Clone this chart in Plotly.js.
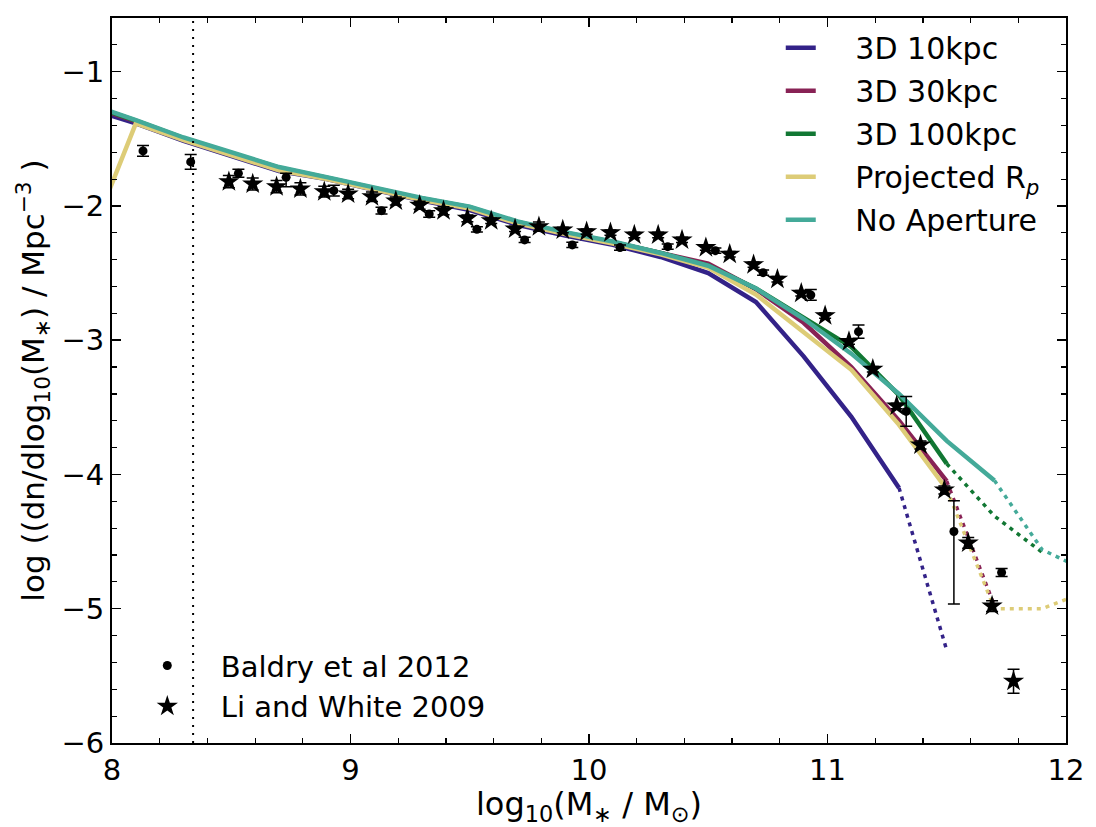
<!DOCTYPE html>
<html>
<head>
<meta charset="utf-8">
<script src="https://cdn.plot.ly/plotly-3.0.1.min.js"></script>
<style>
html,body{margin:0;padding:0;background:#fff;}
#chart{width:1096px;height:827px;}
</style>
</head>
<body>
<div id="chart"></div>
<script>
// ---- model curves (bin centres) ----
const massBins = [7.9, 8.1, 8.3, 8.5, 8.7, 8.9, 9.1, 9.3, 9.5, 9.7, 9.9, 10.1, 10.3, 10.5, 10.7, 10.9, 11.1, 11.3, 11.5, 11.7, 11.9, 12.1];

const ap10 = [-1.275, -1.385, -1.515, -1.625, -1.74, -1.80, -1.88, -1.96, -2.03, -2.14, -2.22, -2.29, -2.38, -2.50, -2.715, -3.12, -3.57, -4.10, -5.31, null, null, null];
const ap30 = [-1.25, -1.37, -1.50, -1.61, -1.72, -1.795, -1.87, -1.95, -2.015, -2.125, -2.205, -2.27, -2.35, -2.43, -2.62, -2.87, -3.20, -3.60, -4.05, -4.98, null, null];
const ap100 = [-1.245, -1.365, -1.495, -1.605, -1.715, -1.79, -1.865, -1.945, -2.01, -2.12, -2.20, -2.27, -2.35, -2.445, -2.615, -2.83, -3.05, -3.41, -3.92, -4.31, -4.58, null];
const apProj = [-2.28, -1.385, -1.51, -1.62, -1.735, -1.80, -1.875, -1.955, -2.02, -2.13, -2.21, -2.28, -2.36, -2.46, -2.66, -2.935, -3.22, -3.63, -4.11, -5.00, -5.00, -4.86];
const apNone = [-1.24, -1.36, -1.49, -1.60, -1.71, -1.785, -1.86, -1.94, -2.005, -2.115, -2.195, -2.265, -2.35, -2.445, -2.615, -2.84, -3.10, -3.40, -3.75, -4.045, -4.56, -4.73];

// index of last bin drawn solid for each curve (after it: dotted)
const solidEnd = {ap10: 17, ap30: 18, ap100: 18, apProj: 18, apNone: 19};

// ---- observations ----
const baldryX = [8.13, 8.33, 8.53, 8.73, 8.93, 9.13, 9.33, 9.53, 9.73, 9.93, 10.13, 10.33, 10.53, 10.73, 10.93, 11.13, 11.33, 11.53, 11.73];
const baldryY = [-1.59, -1.672, -1.757, -1.787, -1.886, -2.035, -2.06, -2.174, -2.253, -2.29, -2.31, -2.303, -2.333, -2.497, -2.663, -2.936, -3.53, -4.425, -4.73];
const baldryErrUp = [0.04, 0.055, 0.03, 0.03, 0.04, 0.025, 0.025, 0.02, 0.02, 0.02, 0.02, 0.02, 0.02, 0.02, 0.04, 0.05, 0.11, 0.23, 0.03];
const baldryErrDn = [0.04, 0.055, 0.03, 0.07, 0.04, 0.025, 0.025, 0.02, 0.02, 0.02, 0.02, 0.02, 0.02, 0.02, 0.04, 0.05, 0.11, 0.54, 0.03];

const liX = [8.49, 8.59, 8.69, 8.79, 8.89, 8.99, 9.09, 9.19, 9.29, 9.39, 9.49, 9.59, 9.69, 9.79, 9.89, 9.99, 10.09, 10.19, 10.29, 10.39, 10.49, 10.59, 10.69, 10.79, 10.89, 10.99, 11.09, 11.19, 11.29, 11.39, 11.49, 11.59, 11.69, 11.78];
const liY = [-1.819, -1.836, -1.856, -1.873, -1.893, -1.911, -1.931, -1.963, -1.995, -2.036, -2.092, -2.11, -2.171, -2.154, -2.179, -2.191, -2.199, -2.216, -2.216, -2.253, -2.31, -2.36, -2.437, -2.546, -2.65, -2.817, -3.01, -3.216, -3.49, -3.78, -4.115, -4.51, -4.98, -5.54];
const liErr = [0.045, 0.045, 0.045, 0.045, 0.04, 0.035, 0.035, 0.03, 0.03, 0.03, 0.025, 0.02, 0.02, 0.035, 0.02, 0.02, 0.02, 0.02, 0.02, 0.02, 0.02, 0.02, 0.02, 0.02, 0.02, 0.02, 0.02, 0.02, 0.02, 0.03, 0.03, 0.04, 0.04, 0.09];

const completenessLimit = 8.34;

const pad = '\u00a0\u00a0\u00a0\u2009';
const names = {ap10: '3D 10kpc', ap30: '3D 30kpc', ap100: '3D 100kpc', apProj: 'Projected R<sub><i>p</i></sub>', apNone: 'No Aperture'};
const colors = {ap10: '#332288', ap30: '#882255', ap100: '#117733', apProj: '#DDCC77', apNone: '#44AA99'};
const series = {ap10, ap30, ap100, apProj, apNone};
const order = ['ap10', 'ap30', 'ap100', 'apProj', 'apNone'];

const traces = [];
// dotted extensions first
order.forEach(k => {
  const e = solidEnd[k];
  traces.push({
    x: massBins.slice(e), y: series[k].slice(e), mode: 'lines', type: 'scatter',
    line: {color: colors[k], width: 3.5, dash: '4px,5px'}, showlegend: false, hoverinfo: 'skip'
  });
});
order.forEach((k, i) => {
  const e = solidEnd[k];
  traces.push({
    x: massBins.slice(0, e + 1), y: series[k].slice(0, e + 1), mode: 'lines', type: 'scatter',
    name: pad + names[k], legend: 'legend', legendgroup: k, legendrank: i + 1,
    line: {color: colors[k], width: 4.5}
  });
});

traces.push({
  x: baldryX, y: baldryY, mode: 'markers', type: 'scatter', name: pad + 'Baldry et al 2012',
  legend: 'legend2',
  marker: {symbol: 'circle', size: 9, color: 'black'},
  error_y: {type: 'data', symmetric: false, array: baldryErrUp, arrayminus: baldryErrDn, color: 'black', thickness: 1.5, width: 6}
});
traces.push({
  x: liX, y: liY, mode: 'markers', type: 'scatter', name: pad + 'Li and White 2009',
  legend: 'legend2',
  marker: {symbol: 'star', size: 16, color: 'black', line: {width: 0}},
  error_y: {type: 'data', array: liErr, color: 'black', thickness: 1.5, width: 6}
});

const fontFam = '"DejaVu Sans", Verdana, sans-serif';
const axisCommon = {
  showgrid: false, zeroline: false, showline: true, linecolor: 'black', linewidth: 2,
  mirror: 'allticks', ticks: 'inside', ticklen: 9, tickwidth: 1.5, tickcolor: 'black',
  tickfont: {family: fontFam, size: 29, color: 'black'},
  minor: {dtick: 0.2, ticks: 'inside', ticklen: 5, tickwidth: 1.2, tickcolor: 'black'}
};

const layout = {
  width: 1096, height: 827,
  margin: {l: 112, r: 30, t: 18, b: 84},
  paper_bgcolor: 'white', plot_bgcolor: 'white',
  font: {family: fontFam, size: 29, color: 'black'},
  xaxis: Object.assign({}, axisCommon, {
    range: [8, 12], tick0: 8, dtick: 1,
    title: {text: 'log<sub>10</sub>(M<sub>∗</sub> / M<sub>⊙</sub>)', font: {family: fontFam, size: 32}, standoff: 4}
  }),
  yaxis: Object.assign({}, axisCommon, {
    range: [-6, -0.6], tick0: -6, dtick: 1,
    title: {text: 'log ((dn/dlog<sub>10</sub>(M<sub>∗</sub>) / Mpc<sup>−3</sup> )', font: {family: fontFam, size: 31}, standoff: 8}
  }),
  legend: {
    x: 0.701, y: 0.995, xanchor: 'left', yanchor: 'top', bgcolor: 'rgba(0,0,0,0)',
    font: {family: fontFam, size: 30}, traceorder: 'grouped', tracegroupgap: 1
  },
  legend2: {
    x: 0.037, y: 0.015, xanchor: 'left', yanchor: 'bottom', bgcolor: 'rgba(0,0,0,0)',
    font: {family: fontFam, size: 29}, tracegroupgap: 1
  },
  shapes: [{
    type: 'line', xref: 'x', yref: 'paper', x0: completenessLimit, x1: completenessLimit, y0: 0, y1: 1,
    line: {color: 'black', width: 2, dash: '2px,6px'}
  }],
  showlegend: true
};

Plotly.newPlot('chart', traces, layout, {displayModeBar: false, staticPlot: true});
</script>
</body>
</html>
